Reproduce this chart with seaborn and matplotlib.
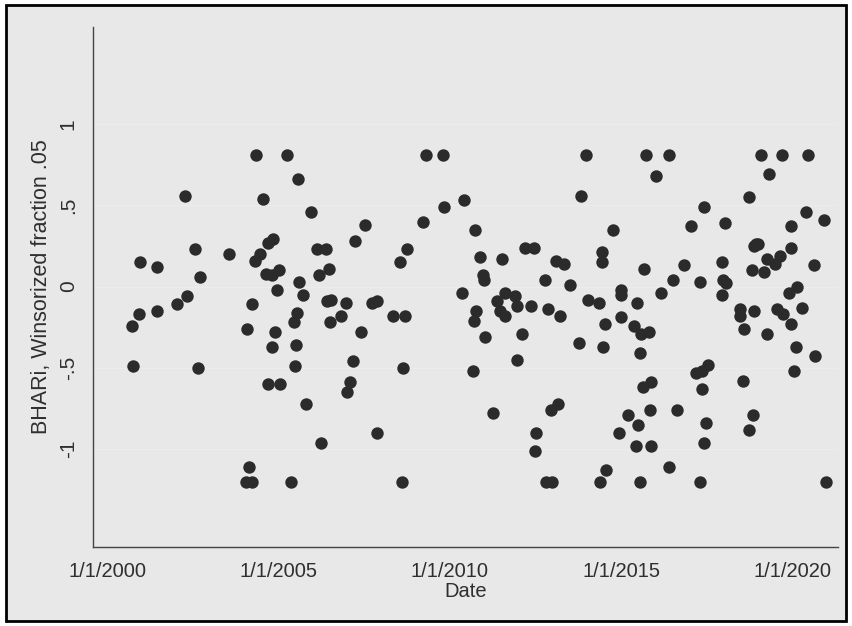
import matplotlib
matplotlib.use("Agg")
import matplotlib.pyplot as plt
from matplotlib.patches import Rectangle
import seaborn as sns
import pandas as pd

# Event date (decimal year) and winsorized buy-and-hold abnormal return
dates = [
    2000.73, 2000.74, 2000.91, 2000.94, 2001.45, 2001.46, 2002.04, 2002.26, 2002.31, 2002.56,
    2002.65, 2002.70,
    2003.55, 2004.04, 2004.07, 2004.12, 2004.21, 2004.22, 2004.30, 2004.34, 2004.45, 2004.54,
    2004.63, 2004.68, 2004.69, 2004.80, 2004.80, 2004.82, 2004.89, 2004.94, 2005.02, 2005.05,
    2005.24, 2005.35, 2005.45, 2005.47, 2005.49, 2005.54, 2005.55, 2005.59, 2005.71, 2005.81,
    2005.95, 2006.13, 2006.18, 2006.23, 2006.38, 2006.40, 2006.46, 2006.49, 2006.53, 2006.82,
    2006.96,
    2006.98, 2007.08, 2007.18, 2007.23, 2007.40, 2007.52, 2007.73, 2007.87, 2007.88, 2008.33,
    2008.55, 2008.61, 2008.64, 2008.69, 2008.75, 2009.22, 2009.29, 2009.81, 2009.84, 2010.36,
    2010.42,
    2010.66, 2010.70, 2010.72, 2010.76, 2010.88, 2010.97, 2010.99, 2011.02, 2011.26, 2011.36,
    2011.46, 2011.51, 2011.61, 2011.61, 2011.90, 2011.95, 2011.96, 2012.09, 2012.19, 2012.36,
    2012.45, 2012.48, 2012.51, 2012.78, 2012.79, 2012.87, 2012.95, 2012.97, 2013.11, 2013.14,
    2013.21, 2013.33, 2013.50, 2013.77, 2013.84, 2013.96, 2014.04,
    2014.35, 2014.38, 2014.43, 2014.43, 2014.46, 2014.53, 2014.57, 2014.75, 2014.93, 2014.98,
    2014.98, 2014.99, 2015.19, 2015.38, 2015.44, 2015.45, 2015.50, 2015.55, 2015.56, 2015.58,
    2015.65, 2015.67, 2015.72, 2015.81, 2015.85, 2015.86, 2015.86, 2016.02, 2016.15, 2016.39,
    2016.40, 2016.52, 2016.64, 2016.84, 2017.03, 2017.18, 2017.30, 2017.30, 2017.35, 2017.35,
    2017.42, 2017.42, 2017.47, 2017.54,
    2017.93, 2017.93, 2017.96, 2018.04, 2018.06, 2018.47, 2018.47, 2018.55, 2018.58, 2018.73,
    2018.74, 2018.81, 2018.85, 2018.89, 2018.89, 2018.95, 2019.00, 2019.08, 2019.18, 2019.25,
    2019.26, 2019.31, 2019.49, 2019.55, 2019.64, 2019.69, 2019.71, 2019.90, 2019.95, 2019.95,
    2019.96, 2020.04, 2020.10, 2020.14, 2020.29, 2020.40, 2020.44, 2020.64, 2020.66, 2020.92,
    2020.98,
]
bhar = [
    -0.24, -0.49, -0.17, 0.15, -0.15, 0.12, -0.11, 0.56, -0.06, 0.23,
    -0.50, 0.06,
    0.20, -1.20, -0.26, -1.11, -0.11, -1.20, 0.16, 0.81, 0.20, 0.54,
    0.08, 0.27, -0.60, 0.07, -0.37, 0.29, -0.28, -0.02, 0.10, -0.60,
    0.81, -1.20, -0.22, -0.49, -0.36, -0.16, 0.66, 0.03, -0.05, -0.72,
    0.46, 0.23, 0.07, -0.96, 0.23, -0.09, 0.11, -0.22, -0.08, -0.18,
    -0.10,
    -0.65, -0.59, -0.46, 0.28, -0.28, 0.38, -0.10, -0.09, -0.90, -0.18,
    0.15, -1.20, -0.50, -0.18, 0.23, 0.40, 0.81, 0.81, 0.49, -0.04,
    0.53,
    -0.52, -0.21, 0.35, -0.15, 0.18, 0.07, 0.04, -0.31, -0.78, -0.09,
    -0.15, 0.17, -0.04, -0.18, -0.06, -0.12, -0.45, -0.29, 0.24, -0.12,
    0.24, -1.01, -0.90, 0.04, -1.20, -0.14, -0.76, -1.20, 0.16, -0.72,
    -0.18, 0.14, 0.01, -0.35, 0.56, 0.81, -0.08,
    -0.10, -1.20, 0.21, 0.15, -0.37, -0.23, -1.13, 0.35, -0.90, -0.02,
    -0.05, -0.19, -0.79, -0.24, -0.98, -0.10, -0.85, -1.20, -0.41, -0.29,
    -0.62, 0.11, 0.81, -0.28, -0.76, -0.59, -0.98, 0.68, -0.04, 0.81,
    -1.11, 0.04, -0.76, 0.13, 0.37, -0.53, 0.03, -1.20, -0.52, -0.63,
    0.49, -0.96, -0.84, -0.48,
    0.15, -0.05, 0.04, 0.39, 0.02, -0.14, -0.18, -0.58, -0.26, -0.88,
    0.55, 0.10, -0.79, 0.25, -0.15, 0.26, 0.26, 0.81, 0.09, 0.17,
    -0.29, 0.69, 0.14, -0.14, 0.19, 0.81, -0.17, -0.04, 0.24, -0.23,
    0.37, -0.52, -0.37, 0.00, -0.13, 0.46, 0.81, 0.13, -0.43, 0.41,
    -1.20,
]

x_ticks = [2000, 2005, 2010, 2015, 2020]
x_tick_labels = ["1/1/2000", "1/1/2005", "1/1/2010", "1/1/2015", "1/1/2020"]
y_ticks = [-1, -0.5, 0, 0.5, 1]
y_tick_labels = ["-1", "-.5", "0", ".5", "1"]

df = pd.DataFrame({"Date": dates, "BHAR": bhar})

sns.set_style("white")
plt.rcParams["font.family"] = ["Liberation Sans", "DejaVu Sans"]

BG = "#e8e8e8"
INK = "#2f2f2f"

fig = plt.figure(figsize=(8.52, 6.26), dpi=100, facecolor="white")
# framed graph region
fig.patches.append(Rectangle((6 / 852, 5 / 626), 840 / 852, 616 / 626,
                             transform=fig.transFigure, facecolor=BG,
                             edgecolor="black", linewidth=2.0, zorder=-10))

ax = fig.add_axes([93 / 852, (626 - 546.5) / 626, 745 / 852, 520 / 626])
ax.set_facecolor("none")

for yv in y_ticks:
    ax.axhline(yv, color="#ececec", lw=1.0, zorder=0)

sns.scatterplot(data=df, x="Date", y="BHAR", ax=ax, color="#2b2b2b",
                s=80, linewidth=0, alpha=1.0, zorder=3)

ax.set_xlim(1999.577, 2021.33)
ax.set_ylim(-1.6, 1.6)

ax.set_xticks(x_ticks)
ax.set_xticklabels(x_tick_labels, fontsize=14.5, color=INK)
ax.set_yticks(y_ticks)
ax.set_yticklabels(y_tick_labels, fontsize=15, color=INK, rotation=90, va="center")

ax.tick_params(axis="both", direction="out", length=7, width=1.0, color="#444444")
ax.tick_params(axis="x", pad=4)
ax.tick_params(axis="y", pad=4)

for side in ["top", "right"]:
    ax.spines[side].set_visible(False)
for side in ["left", "bottom"]:
    ax.spines[side].set_color("#444444")
    ax.spines[side].set_linewidth(1.0)

ax.set_xlabel("Date", fontsize=14.5, color=INK, labelpad=1)
ax.set_ylabel("BHARi, Winsorized fraction .05", fontsize=15.5, color=INK, labelpad=5)

fig.savefig("out.png", dpi=100, facecolor="white")
